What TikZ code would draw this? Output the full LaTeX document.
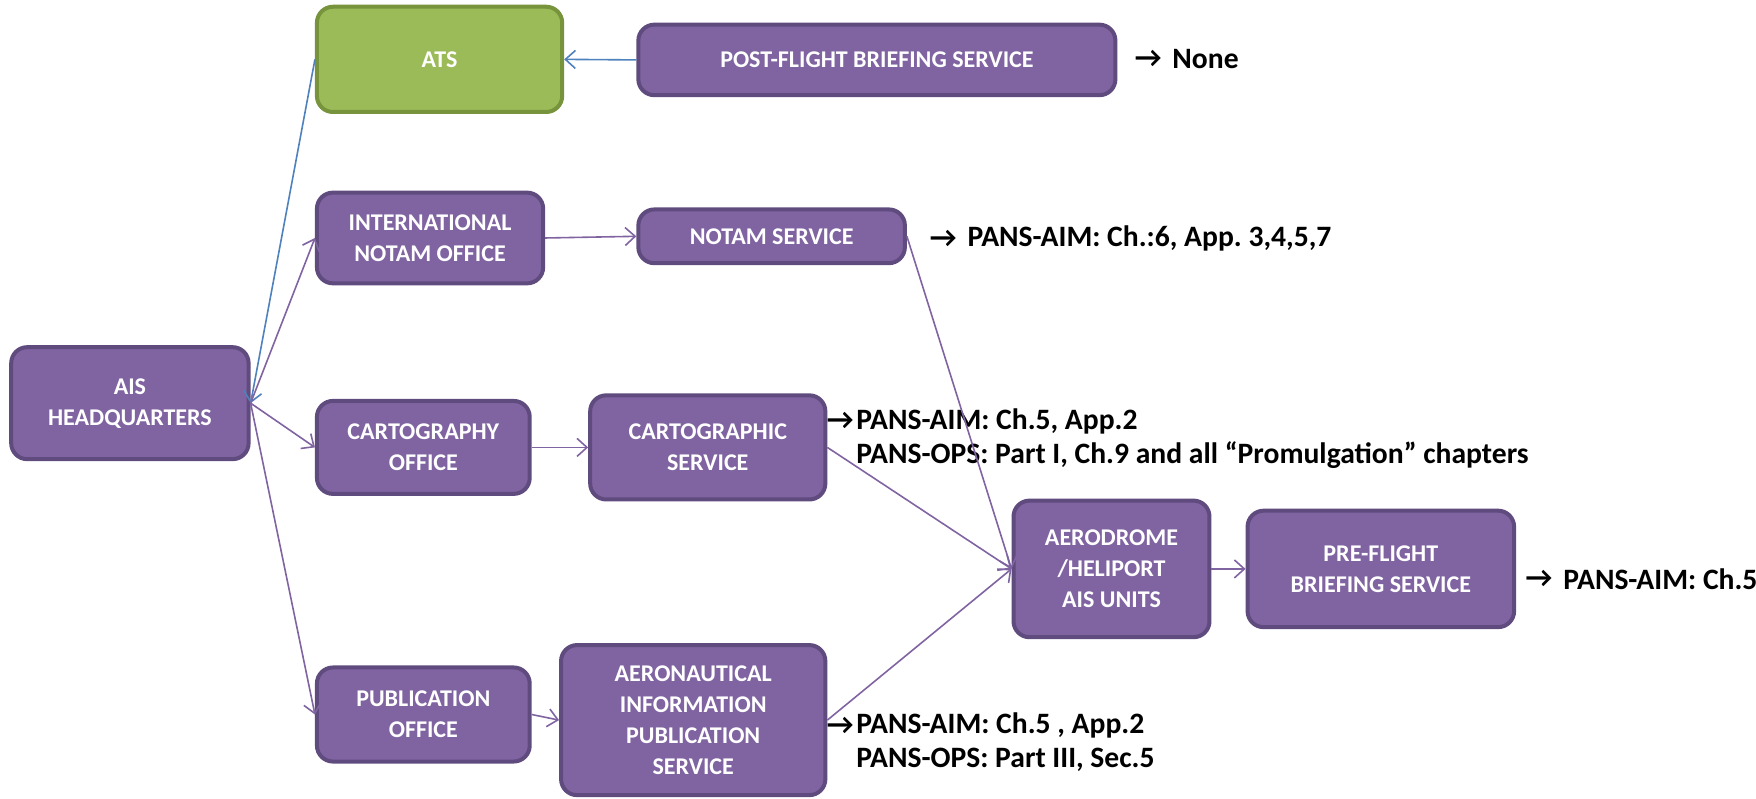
\documentclass[tikz,border=0pt]{standalone}
\usepackage{fontspec}
\setmainfont{Carlito}
\newfontfamily\arrfont{DejaVu Sans}
\newcommand\myarrow{\iffontchar\font"2192 →\else{\arrfont →}\fi}
\usetikzlibrary{arrows.meta}
\definecolor{pfill}{HTML}{8064A2}
\definecolor{pdraw}{HTML}{5F4B7E}
\definecolor{gfill}{HTML}{9BBB59}
\definecolor{gdraw}{HTML}{77933C}
\definecolor{pline}{HTML}{8064A2}
\definecolor{bline}{HTML}{4F81BD}
\frenchspacing
\begin{document}
\begin{tikzpicture}[x=0.56pt,y=-0.56pt,
  box/.style={draw=pdraw,fill=pfill,line width=2pt,rounded corners=8pt,
    text=white,align=center,font=\bfseries\fontsize{12}{15.5}\selectfont,inner sep=2pt},
  gbox/.style={box,draw=gdraw,fill=gfill},
  sz/.style 2 args={minimum width={#1*0.56pt},minimum height={#2*0.56pt}},
  lbl/.style={font=\bfseries\fontsize{14.8}{17.5}\selectfont,inner sep=0pt,anchor=west},
  arr/.style={font=\bfseries\fontsize{14.8}{17.5}\selectfont,inner sep=0pt,anchor=west},
  pl/.style={draw=pline,line width=0.8pt,-{Straight Barb[length=5pt,width=9pt]}},
  bl/.style={draw=bline,line width=0.8pt,-{Straight Barb[length=5pt,width=9pt]}}]
\useasboundingbox (0,0) rectangle (1568,713);
% boxes
\node[box,sz={212}{100}] (ais) at (116,360) {AIS\\HEADQUARTERS};
\node[gbox,sz={219}{94}] (ats) at (392.5,53) {ATS};
\node[box,sz={426}{63}] (post) at (783,53.5) {POST-FLIGHT BRIEFING SERVICE};
\node[box,sz={202}{81}] (intl) at (384,212.5) {INTERNATIONAL\\NOTAM OFFICE};
\node[box,sz={238}{48}] (notam) at (689,211) {NOTAM SERVICE};
\node[box,sz={190}{83}] (cof) at (378,399.5) {CARTOGRAPHY\\OFFICE};
\node[box,sz={210}{93}] (csv) at (632,399.5) {CARTOGRAPHIC\\SERVICE};
\node[box,sz={175}{122}] (aero) at (992.5,508) {AERODROME\\/HELIPORT\\AIS UNITS};
\node[box,sz={238}{104}] (pre) at (1233,508) {PRE-FLIGHT\\BRIEFING SERVICE};
\node[box,sz={190}{84}] (pof) at (378,638) {PUBLICATION\\OFFICE};
\node[box,sz={236}{134}] (aip) at (619,643) {AERONAUTICAL\\INFORMATION\\PUBLICATION\\SERVICE};
% labels
\node[arr] (a1) at (1013,53) {\myarrow};
\node[lbl] (t1) at ([xshift=5pt]a1.east) {None};
\node[arr] (a2) at (830,213) {\myarrow};
\node[lbl] (t2) at ([xshift=5pt]a2.east) {PANS-AIM: Ch.:6, App. 3,4,5,7};
\node[arr] (a3) at (738,376) {\myarrow};
\node[lbl] (t3) at ([xshift=1pt]a3.east) {PANS-AIM: Ch.5, App.2};
\node[lbl] (t3b) at ([yshift=-30*0.56pt]t3.west) {PANS-OPS: Part I, Ch.9 and all “Promulgation” chapters};
\node[arr] (a4) at (1362,517) {\myarrow};
\node[lbl] (t4) at ([xshift=5pt]a4.east) {PANS-AIM: Ch.5};
\node[arr] (a5) at (738,648) {\myarrow};
\node[lbl] (t5) at ([xshift=1pt]a5.east) {PANS-AIM: Ch.5 , App.2};
\node[lbl] (t5b) at ([yshift=-30*0.56pt]t5.west) {PANS-OPS: Part III, Sec.5};
% connectors
\draw[bl] (post.west) -- (ats.east);
\draw[bl] (ats.west) -- (ais.east);
\draw[pl] (ais.east) -- (intl.west);
\draw[pl] (ais.east) -- (cof.west);
\draw[pl] (ais.east) -- (pof.west);
\draw[pl] (intl.east) -- (notam.west);
\draw[pl] (cof.east) -- (csv.west);
\draw[pl] (pof.east) -- (aip.west);
\draw[pl] (notam.east) -- (aero.west);
\draw[pl] (csv.east) -- (aero.west);
\draw[pl] (aip.east) -- (aero.west);
\draw[pl] (aero.east) -- (pre.west);
\end{tikzpicture}
\end{document}
